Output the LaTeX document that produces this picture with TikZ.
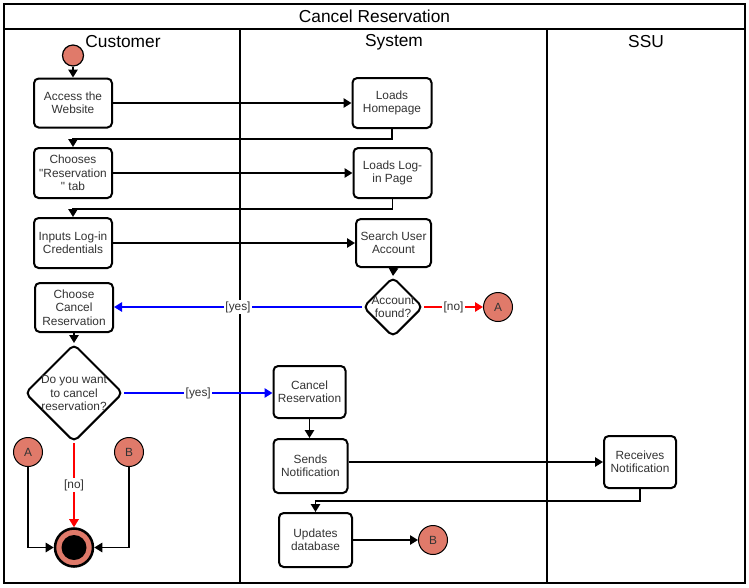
\documentclass[tikz,border=0pt]{standalone}
\usepackage{fontspec}
\setmainfont{Liberation Sans}
\usetikzlibrary{arrows.meta,shapes.geometric,calc}
\definecolor{salmon}{HTML}{E07A6A}
\definecolor{txt}{HTML}{333333}
\begin{document}
\begin{tikzpicture}[x=0.75pt,y=-0.75pt,
  frame/.style={line width=1.5pt},
  boxfont/.style={font=\fontsize{8.9}{10}\selectfont},
  actbox/.style={draw, line width=1.5pt, rounded corners=3.5pt, fill=white, align=center,
     boxfont, text=txt, inner sep=0pt},
  bx/.style 2 args={actbox, minimum width=#1*0.75pt, minimum height=#2*0.75pt},
  dec/.style={draw, diamond, line width=1.5pt, rounded corners=4pt, fill=white, inner sep=0pt,
     minimum width=#1*0.75pt, minimum height=#1*0.75pt},
  declbl/.style={align=center, boxfont, text=txt},
  conn/.style={line width=1.3pt, -{Triangle[length=6pt,width=7pt]}},
  circ/.style={circle, draw, fill=salmon, line width=0.75pt, inner sep=0pt,
     minimum size=29*0.75pt, boxfont, text=txt},
  guard/.style={fill=white, text=txt, boxfont, inner sep=1pt},
  lanehead/.style={font=\fontsize{13}{15}\selectfont, text=black}
]
\useasboundingbox (0,0) rectangle (749,587);
% frame and lanes
\draw[frame] (4,4) rectangle (745,583);
\draw[frame] (4,29) -- (745,29);
\draw[frame] (240,29) -- (240,583);
\draw[frame] (547,29) -- (547,583);
\node[lanehead] (title) at (374.5,16.5) {Cancel Reservation};
\node[lanehead] (laneC) at (123,42) {Customer};
\node[lanehead] (laneS) at (394,42) {System};
\node[lanehead] (laneU) at (646,42) {SSU};

% nodes
\node[circle, draw, fill=salmon, line width=0.9pt, minimum size=21*0.75pt, inner sep=0pt] (start) at (73,55.5) {};
\node[bx={78}{49}] (access) at (73,103) {Access the\\Website};
\node[bx={79}{50}] (home) at (392,103) {Loads\\Homepage};
\node[bx={78}{50}] (chooses) at (73,173) {Chooses\\\textquotedbl Reservation\\\textquotedbl{} tab};
\node[bx={78}{50}] (loginp) at (392.5,173) {Loads Log-\\in Page};
\node[bx={78}{50}] (inputs) at (73,243) {Inputs Log-in\\Credentials};
\node[bx={75}{48}] (search) at (393.5,243) {Search User\\Account};
\node[dec=60, label={[declbl]center:{Account\\found?}}] (found) at (393,307) {};
\node[circ] (aR) at (498,307) {A};
\node[bx={78}{49}] (chcancel) at (74,307.5) {Choose\\Cancel\\Reservation};
\node[dec=98, label={[declbl]center:{Do you want\\to cancel\\reservation?}}] (dec2) at (74,393) {};
\node[bx={72}{52}] (cancel) at (309.5,392) {Cancel\\Reservation};
\node[bx={74}{54}] (sends) at (310.5,466) {Sends\\Notification};
\node[bx={72}{52}] (recv) at (640,462) {Receives\\Notification};
\node[bx={73}{54}] (upd) at (315.5,540) {Updates\\database};
\node[circ] (bR) at (433,540) {B};
\node[circ] (aL) at (28,452) {A};
\node[circ] (bL) at (129,452) {B};
\node[circle, draw, fill=salmon, line width=1.9pt, minimum size=38*0.75pt, inner sep=0pt] (end) at (74,547.5) {};
\node[circle, fill=black, minimum size=25*0.75pt, inner sep=0pt] (endin) at (end.center) {};

% connectors
\draw[conn] (start.south) -- (access.north);
\draw[conn] (access.east) -- (access.east -| home.west);
\draw[conn] (home.south) -- ++(0,10) -| (chooses.north);
\draw[conn] (chooses.east) -- (chooses.east -| loginp.west);
\draw[conn] (loginp.south) -- ++(0,10) -| (inputs.north);
\draw[conn] (inputs.east) -- (inputs.east -| search.west);
\draw[conn] (search.south) -- (found.north);
\draw[conn, red] (found.east) -- node[guard] {[no]} (aR.west);
\draw[conn, blue] (found.west) -- node[guard] {[yes]} (found.west -| chcancel.east);
\draw[conn] (chcancel.south) -- (dec2.north);
\draw[conn, blue] (dec2.east) -- node[guard] {[yes]} (dec2.east -| cancel.west);
\draw[conn, red] (dec2.south) -- node[guard] {[no]} (end.north);
\draw[conn] (aL.south) |- (end.west);
\draw[conn] (bL.south) |- (end.east);
\draw[conn] (cancel.south) -- (cancel.south |- sends.north);
\draw[conn] (recv.west -| sends.east) -- (recv.west);
\draw[conn] (recv.south) -- ++(0,12) -| (upd.north);
\draw[conn] (upd.east) -- (bR.west);
\end{tikzpicture}
\end{document}
